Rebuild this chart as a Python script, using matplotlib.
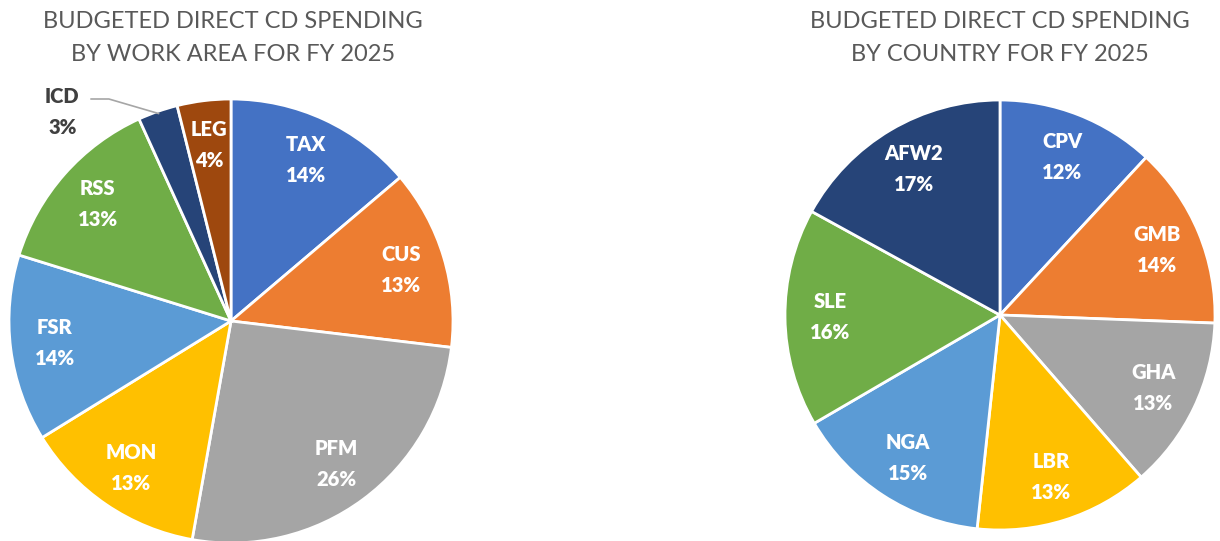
import matplotlib
matplotlib.use('Agg')
import matplotlib.pyplot as plt
import numpy as np

######## DATA
area_labels = ['TAX', 'CUS', 'PFM', 'MON', 'FSR', 'RSS', 'ICD', 'LEG']
area_values = [13.8, 13.1, 25.9, 13.4, 13.6, 13.4, 2.9, 3.9]
area_colors = ['#4472C4', '#ED7D31', '#A5A5A5', '#FFC000', '#5B9BD5', '#70AD47', '#264478', '#9E480E']

country_labels = ['CPV', 'GMB', 'GHA', 'LBR', 'NGA', 'SLE', 'AFW2']
country_values = [11.9, 13.7, 13.0, 13.1, 14.9, 16.4, 17.0]
country_colors = ['#4472C4', '#ED7D31', '#A5A5A5', '#FFC000', '#5B9BD5', '#70AD47', '#264478']
#####################

plt.rcParams['font.family'] = ['Lato', 'DejaVu Sans']

W, H = 1220, 541
fig = plt.figure(figsize=(W / 100, H / 100), dpi=100)

LABEL_KW = dict(ha='center', va='center', fontsize=14.5, fontweight='heavy', linespacing=1.75)


def pie_axes(cx, cy, r):
    # pixel centre (from top) and radius -> square axes
    ax = fig.add_axes([(cx - r) / W, (H - cy - r) / H, 2 * r / W, 2 * r / H])
    ax.axis('off')
    return ax


def draw_pie(ax, values, labels, colors, dist, skip=()):
    wedges, _ = ax.pie(values, colors=colors, startangle=90, counterclock=False,
                       radius=1, center=(0, 0), frame=False,
                       wedgeprops=dict(edgecolor='white', linewidth=2))
    total = sum(values)
    for w, lab, v in zip(wedges, labels, values):
        if lab in skip:
            continue
        ang = np.deg2rad((w.theta1 + w.theta2) / 2)
        x, y = dist * np.cos(ang), dist * np.sin(ang)
        ax.text(x, y, '%s\n%d%%' % (lab, round(v / total * 100)), color='white', **LABEL_KW)
    ax.set_xlim(-1, 1)
    ax.set_ylim(-1, 1)
    return wedges


# left pie: work area
ax1 = pie_axes(231, 321, 222)
wedges = draw_pie(ax1, area_values, area_labels, area_colors, 0.80, skip=('ICD',))

# ICD label outside with a leader line
w = wedges[area_labels.index('ICD')]
ang = np.deg2rad((w.theta1 + w.theta2) / 2)
ex, ey = 0.99 * np.cos(ang), 0.99 * np.sin(ang)
ax1.plot([-0.63, -0.55, ex], [1.00, 1.00, ey], color='#A6A6A6', lw=1.2, clip_on=False)
icd_v = area_values[area_labels.index('ICD')]
ax1.text(-0.76, 0.94, 'ICD\n%d%%' % round(icd_v / sum(area_values) * 100),
         color='#404040', **LABEL_KW)

# right pie: country
ax2 = pie_axes(1000, 315, 215)
draw_pie(ax2, country_values, country_labels, country_colors, 0.79)

fig.text(233 / W, 1 - 38 / H, 'BUDGETED DIRECT CD SPENDING\nBY WORK AREA FOR FY 2025',
         ha='center', va='center', fontsize=17, color='#595959', linespacing=1.75)
fig.text(1000 / W, 1 - 38 / H, 'BUDGETED DIRECT CD SPENDING\nBY COUNTRY FOR FY 2025',
         ha='center', va='center', fontsize=17, color='#595959', linespacing=1.75)

fig.savefig('out.png', dpi=100)
